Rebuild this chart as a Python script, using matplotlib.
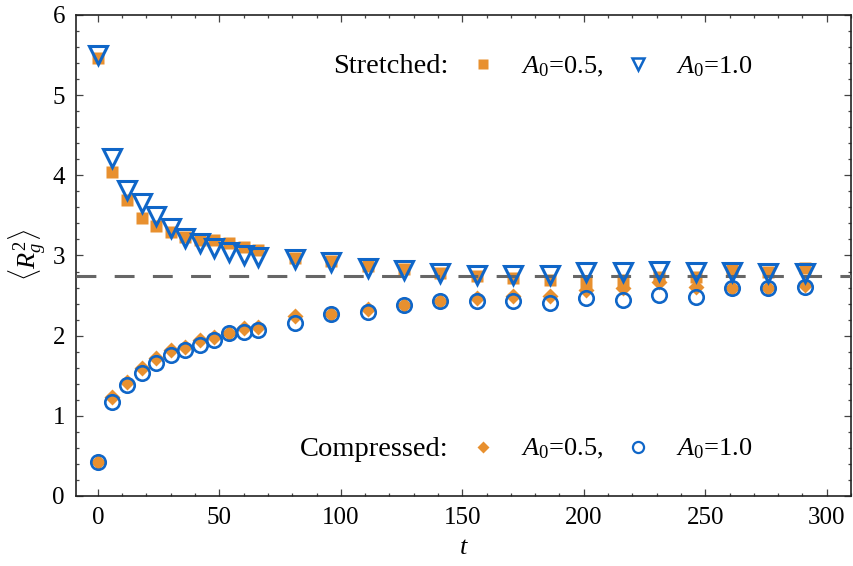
import numpy as np
import matplotlib
matplotlib.use("Agg")
import matplotlib.pyplot as plt
from matplotlib.lines import Line2D
from matplotlib.ticker import MultipleLocator

plt.rcParams["font.family"] = "Liberation Serif"
plt.rcParams["mathtext.fontset"] = "custom"
plt.rcParams["mathtext.rm"] = "Liberation Serif"
plt.rcParams["mathtext.it"] = "Liberation Serif:italic"

# ---- data ----
t = [0, 6, 12, 18, 24, 30, 36, 42, 48, 54, 60, 66,
     81, 96, 111, 126, 141, 156, 171, 186, 201, 216, 231, 246, 261, 276, 291]

stretch_05 = [5.46, 4.04, 3.69, 3.47, 3.37, 3.29, 3.23, 3.19, 3.19, 3.15, 3.10, 3.07,
              2.97, 2.93, 2.87, 2.83, 2.78, 2.74, 2.72, 2.70,
              2.67, 2.69, 2.73, 2.73, 2.82, 2.80, 2.84]
stretch_10 = [5.50, 4.22, 3.82, 3.65, 3.49, 3.34, 3.22, 3.15, 3.09, 3.04, 3.00, 2.98,
              2.96, 2.92, 2.84, 2.82, 2.78, 2.76, 2.76, 2.76,
              2.79, 2.79, 2.81, 2.79, 2.79, 2.78, 2.78]
compress_05 = [0.42, 1.23, 1.42, 1.60, 1.72, 1.82, 1.86, 1.95, 1.98, 2.03, 2.09, 2.11,
               2.24, 2.27, 2.33, 2.38, 2.43, 2.47, 2.50, 2.50,
               2.57, 2.59, 2.67, 2.61, 2.59, 2.60, 2.63]
compress_10 = [0.42, 1.17, 1.38, 1.53, 1.66, 1.76, 1.82, 1.88, 1.95, 2.03, 2.05, 2.07,
               2.16, 2.27, 2.30, 2.38, 2.43, 2.43, 2.43, 2.41,
               2.47, 2.44, 2.51, 2.48, 2.59, 2.59, 2.61]
equilibrium = 2.75

ORANGE = "#E8902F"
BLUE = "#0F66C8"

fig = plt.figure(figsize=(8.54, 5.66), dpi=100)
ax = fig.add_axes([0.089, 0.1237, 0.9075, 0.8498])

ax.plot(t, stretch_05, "s", color=ORANGE, ms=8.6, mec="none", zorder=3)
ax.plot(t, compress_05, "D", color=ORANGE, ms=8.4, mec="none", zorder=3)
ax.axhline(equilibrium, color="#666666", lw=2.2, dashes=(6.5, 6), zorder=4)
ax.plot(t, stretch_10, "v", mfc="none", mec=BLUE, ms=12.5, mew=2.2, zorder=5)
ax.plot(t, compress_10, "o", mfc="none", mec=BLUE, ms=10.4, mew=1.9, zorder=5)

ax.set_xlim(-9, 310)
ax.set_ylim(0, 6)
ax.xaxis.set_major_locator(MultipleLocator(50))
ax.xaxis.set_minor_locator(MultipleLocator(10))
ax.yaxis.set_major_locator(MultipleLocator(1))
ax.yaxis.set_minor_locator(MultipleLocator(0.2))
ax.tick_params(which="both", direction="in", top=True, right=True, labelsize=18,
               width=0.9, color="#444444")
ax.tick_params(which="major", length=5, pad=8)
ax.tick_params(which="minor", length=2.5)
for s in ax.spines.values():
    s.set_linewidth(1.2)
    s.set_color("#222222")

ax.set_xlabel("$t$", fontsize=19, labelpad=6)
ax.set_ylabel(r"$\langle R_g^2\rangle$", fontsize=19, labelpad=3)

# ---- legends ----
blank = Line2D([], [], linestyle="none")
h_sq = Line2D([], [], marker="s", ls="none", color=ORANGE, ms=6.5, mec="none")
h_tri = Line2D([], [], marker="v", ls="none", mfc="none", mec=BLUE, ms=9, mew=1.8)
h_dia = Line2D([], [], marker="D", ls="none", color=ORANGE, ms=6.5, mec="none")
h_cir = Line2D([], [], marker="o", ls="none", mfc="none", mec=BLUE, ms=8, mew=1.6)

legend_kw = dict(ncol=3, loc="center right", frameon=False, fontsize=19,
                 handlelength=1.0, handletextpad=0.95, columnspacing=0.8)
leg1 = ax.legend([blank, h_sq, h_tri], ["Stretched:", "$A_0$=0.5,", "$A_0$=1.0"],
                 bbox_to_anchor=(0.903, 0.892), **legend_kw)
leg1.get_texts()[0].set_fontsize(20.5)
ax.add_artist(leg1)
leg2 = ax.legend([blank, h_dia, h_cir], ["Compressed:", "$A_0$=0.5,", "$A_0$=1.0"],
                 bbox_to_anchor=(0.903, 0.097), **legend_kw)
leg2.get_texts()[0].set_fontsize(20.5)

fig.savefig("out.png", dpi=100)
